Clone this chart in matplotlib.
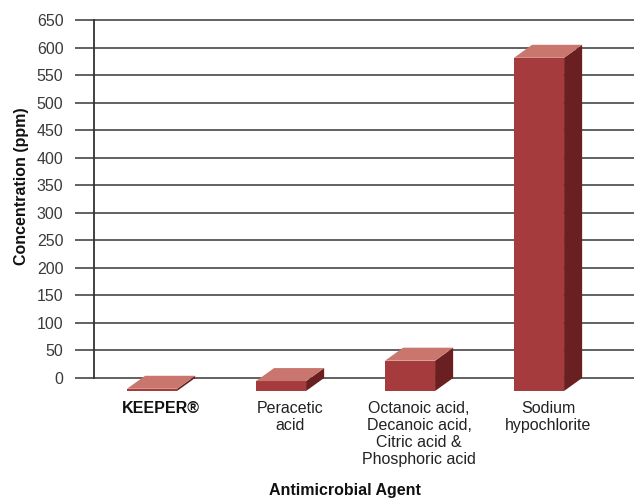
import matplotlib
matplotlib.use("Agg")
import matplotlib.pyplot as plt
from matplotlib.patches import Polygon

plt.rcParams['font.family'] = ['Liberation Sans Narrow', 'Liberation Sans', 'DejaVu Sans']

categories = ["KEEPER®", "Peracetic\nacid",
              "Octanoic acid,\nDecanoic acid,\nCitric acid &\nPhosphoric acid",
              "Sodium\nhypochlorite"]
values = [4, 18, 55, 605]
yticks = list(range(0, 651, 50))

front_c = "#A63B3D"
top_c = "#C9766E"
side_c = "#6A1F20"

fig = plt.figure(figsize=(6.34, 5.0), dpi=100)
ax = fig.add_axes([94/634, 1 - 394.5/500, 1 - 94/634, (394.5 - 20)/500])
ax.set_xlim(-0.45, 3.736)
ax.set_ylim(-30, 650)

w = 0.388      # bar front width (x units)
dx = 0.14      # depth x offset
dy = 23.6      # depth y offset (data units)

for y in yticks:
    ax.axhline(y, color="#555555", lw=1.3, zorder=1, clip_on=False)
ax.set_yticks(yticks)
ax.set_yticklabels([str(t) for t in yticks], fontsize=11.5, color="#3a3a3a")
ax.tick_params(axis='y', length=14, width=1.3, color="#555555", pad=8)
ax.tick_params(axis='x', length=0)
ax.set_xticks([])
for s in ["top", "right", "bottom"]:
    ax.spines[s].set_visible(False)
ax.spines["left"].set_bounds(0, 650)
ax.spines["left"].set_color("#333333")
ax.spines["left"].set_linewidth(1.3)

for i, v in enumerate(values):
    x0 = i - w / 2
    x1 = i + w / 2
    yb = -dy
    yt = v - dy
    front = Polygon([(x0, yb), (x1, yb), (x1, yt), (x0, yt)], closed=True,
                    facecolor=front_c, edgecolor="none", zorder=3)
    top = Polygon([(x0, yt), (x1, yt), (x1 + dx, yt + dy), (x0 + dx, yt + dy)], closed=True,
                  facecolor=top_c, edgecolor="none", zorder=3)
    side = Polygon([(x1, yb), (x1 + dx, yb + dy), (x1 + dx, yt + dy), (x1, yt)], closed=True,
                   facecolor=side_c, edgecolor="none", zorder=3)
    for p in (front, side, top):
        ax.add_patch(p)
    ax.text(i + dx / 2, -42, categories[i], ha="center", va="top",
            fontsize=11.5, color="#222222" if i else "#111111",
            fontweight="bold" if i == 0 else "normal",
            linespacing=1.15, clip_on=False)

ax.set_ylabel("Concentration (ppm)", fontsize=11.5, fontweight="bold", color="#111111")
ax.yaxis.set_label_coords((29 - 94) / 540, 0.555)
fig.text(345/634, 1 - 490/500, "Antimicrobial Agent", ha="center", va="center",
         fontsize=11.5, fontweight="bold", color="#111111")

fig.savefig("out.png", dpi=100)
